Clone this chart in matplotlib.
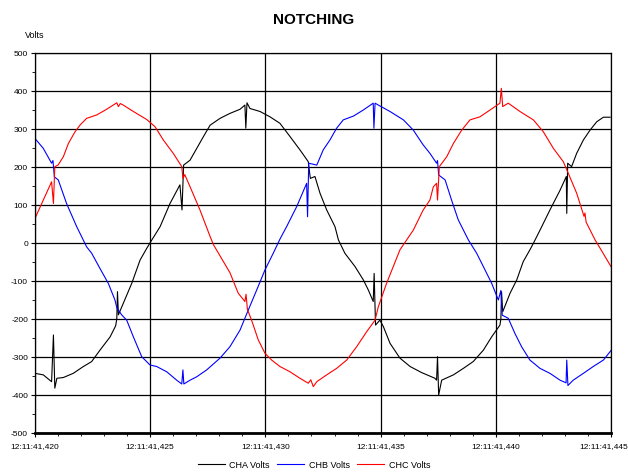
import matplotlib
matplotlib.use("Agg")
import matplotlib.pyplot as plt
from matplotlib.ticker import MultipleLocator

plt.rcParams["font.family"] = ["Liberation Sans", "DejaVu Sans"]
plt.rcParams["axes.unicode_minus"] = False

# time in ms after 12:11:41
t_a = [420.0, 420.36, 420.72, 420.80, 420.86, 420.95, 421.23, 421.66, 422.10, 422.46,
       422.82, 423.26, 423.50, 423.55, 423.58, 423.62, 423.83, 424.20, 424.56, 424.85,
       425.07, 425.43, 425.86, 426.29, 426.38, 426.45, 426.73, 427.02, 427.31, 427.60,
       428.03, 428.46, 428.90, 429.11, 429.15, 429.20, 429.33, 429.77, 430.20, 430.63,
       431.07, 431.50, 431.86, 431.95, 432.15, 432.37, 432.66, 433.02, 433.17, 433.45,
       433.89, 434.25, 434.47, 434.68, 434.72, 434.78, 434.97, 435.12, 435.41, 435.84,
       436.28, 436.78, 437.36, 437.43, 437.47, 437.52, 437.65, 438.16, 438.59, 439.02,
       439.46, 439.82, 440.18, 440.22, 440.25, 440.30, 440.62, 440.91, 441.19, 441.48,
       441.63, 441.92, 442.35, 442.79, 443.06, 443.08, 443.12, 443.29, 443.51, 443.80,
       444.09, 444.38, 444.67, 444.96]
cha = [-343, -347, -365, -242, -382, -356, -354, -343, -325, -312,
       -282, -247, -218, -200, -128, -189, -159, -106, -45, -14,
       8, 43, 104, 153, 87, 205, 218, 249, 280, 310,
       328, 341, 352, 363, 302, 369, 354, 346, 332, 315,
       280, 245, 214, 170, 175, 131, 87, 43, 8, -27,
       -62, -97, -124, -154, -80, -216, -203, -220, -264, -303,
       -325, -341, -356, -361, -299, -400, -361, -347, -330, -312,
       -282, -247, -216, -200, -128, -181, -132, -97, -49, -18,
       -1, 34, 87, 139, 175, 78, 210, 201, 236, 271,
       297, 319, 331, 331]

t_b = [420.0, 420.36, 420.72, 420.78, 420.84, 421.01, 421.37, 421.81, 422.24, 422.46,
       422.82, 423.18, 423.47, 423.55, 423.76, 423.98, 424.27, 424.63, 424.99, 425.28,
       425.72, 426.15, 426.37, 426.42, 426.46, 426.73, 427.02, 427.45, 428.03, 428.46,
       428.90, 429.26, 429.62, 429.98, 430.34, 430.63, 430.92, 431.36, 431.79, 431.83,
       431.88, 432.23, 432.51, 432.80, 433.09, 433.38, 433.82, 434.25, 434.68, 434.71,
       434.76, 434.90, 435.41, 435.99, 436.42, 436.85, 437.14, 437.43, 437.47, 437.52,
       437.80, 438.08, 438.37, 438.66, 438.81, 439.17, 439.46, 439.82, 440.11, 440.22,
       440.28, 440.54, 440.83, 441.12, 441.48, 441.92, 442.35, 442.79, 443.05, 443.08,
       443.13, 443.36, 443.80, 444.23, 444.67, 444.96, 445.0]
chb = [275, 249, 210, 217, 174, 166, 104, 43, -10, -27,
       -67, -106, -150, -170, -189, -203, -247, -299, -321, -325,
       -339, -361, -371, -334, -371, -361, -352, -334, -303, -273,
       -229, -176, -124, -71, -27, 10, 43, 96, 157, 69,
       210, 205, 245, 271, 302, 324, 334, 350, 368, 302,
       368, 363, 346, 324, 297, 258, 236, 210, 217, 179,
       166, 113, 61, 26, 8, -27, -62, -106, -150, -125,
       -190, -198, -238, -273, -308, -330, -343, -361, -368, -308,
       -375, -361, -343, -325, -308, -286, -283]

t_c = [420.0, 420.36, 420.72, 420.80, 420.86, 421.00, 421.23, 421.45, 421.74, 421.95,
       422.24, 422.68, 423.11, 423.55, 423.62, 423.70, 423.83, 424.27, 424.85, 425.21,
       425.57, 426.00, 426.37, 426.42, 426.50, 426.73, 427.16, 427.60, 427.75, 428.46,
       428.82, 429.11, 429.16, 429.22, 429.40, 429.69, 429.98, 430.27, 430.63, 431.07,
       431.50, 431.86, 431.97, 432.08, 432.23, 432.66, 433.09, 433.53, 433.96, 434.40,
       434.76, 434.90, 435.26, 435.55, 435.84, 436.13, 436.42, 436.85, 437.14, 437.29,
       437.43, 437.47, 437.55, 437.87, 438.16, 438.52, 438.88, 439.31, 439.75, 440.18,
       440.24, 440.30, 440.54, 441.05, 441.63, 442.06, 442.50, 442.93, 443.15, 443.51,
       443.83, 443.87, 443.92, 444.16, 444.31, 444.52, 444.96, 445.0]
chc = [65, 113, 161, 104, 201, 205, 227, 262, 293, 310,
       328, 337, 352, 369, 359, 367, 363, 346, 325, 306,
       271, 236, 201, 170, 180, 148, 87, 17, -5, -78,
       -132, -154, -135, -175, -203, -255, -290, -308, -325, -339,
       -356, -369, -360, -378, -365, -347, -330, -308, -273, -233,
       -203, -168, -106, -62, -18, 8, 34, 87, 113, 148,
       157, 113, 201, 227, 262, 297, 324, 332, 350, 368,
       407, 359, 368, 346, 324, 293, 249, 214, 183, 131,
       70, 79, 55, 26, 8, -13, -58, -62]

x_ticks = [420, 425, 430, 435, 440, 445]
x_labels = ["12:11:41,420", "12:11:41,425", "12:11:41,430",
            "12:11:41,435", "12:11:41,440", "12:11:41,445"]
series_names = ["CHA Volts", "CHB Volts", "CHC Volts"]

fig = plt.figure(figsize=(6.28, 4.73), dpi=100)
ax = fig.add_axes([35 / 628, 1 - 433 / 473, 576 / 628, 380 / 473])

ax.plot(t_a, cha, color="black", lw=0.8, label=series_names[0])
ax.plot(t_b, chb, color="blue", lw=0.8, label=series_names[1])
ax.plot(t_c, chc, color="red", lw=0.8, label=series_names[2])

ax.set_xlim(420, 445)
ax.set_ylim(-500, 500)
ax.set_xticks(x_ticks)
# the last label sits against the right edge of the figure, drawn separately
ax.set_xticklabels(x_labels[:-1] + [""])
ax.annotate(x_labels[-1], xy=(1, 0), xycoords="axes fraction",
            xytext=(12, -7.5), textcoords="offset points",
            ha="right", va="top", fontsize=6)
ax.xaxis.set_minor_locator(MultipleLocator(1))
ax.yaxis.set_major_locator(MultipleLocator(100))
ax.yaxis.set_minor_locator(MultipleLocator(50))
ax.tick_params(axis="both", which="major", labelsize=6, length=3, width=0.8, pad=2)
ax.tick_params(axis="both", which="minor", length=2, width=0.6)
ax.tick_params(axis="x", pad=4)
ax.grid(True, which="major", color="black", lw=0.9)
ax.set_axisbelow(True)

for side in ["top", "right", "left"]:
    ax.spines[side].set_linewidth(0.9)
ax.spines["bottom"].set_linewidth(2)

fig.text(0.5, 1 - 20 / 473, "NOTCHING", ha="center", va="center",
         fontsize=11, fontweight="bold")
fig.text(35 / 628, 1 - 36 / 473, "Volts", ha="center", va="center", fontsize=6.5)

fig.legend(loc="center", bbox_to_anchor=(0.5, 1 - 465 / 473), ncol=3,
           frameon=False, fontsize=6.5, handlelength=3, columnspacing=0.8,
           handletextpad=0.5)

fig.savefig("out.png", dpi=100)
